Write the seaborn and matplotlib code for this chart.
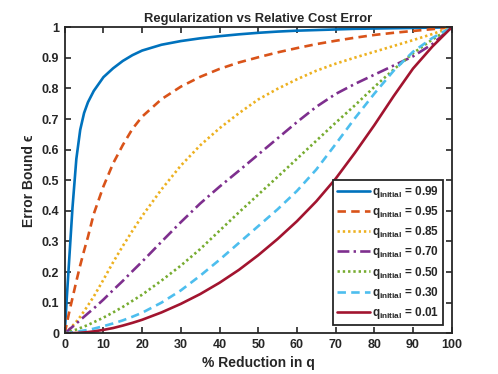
import numpy as np
import pandas as pd
import matplotlib
matplotlib.use('Agg')
import matplotlib.pyplot as plt
import seaborn as sns

# % reduction in q (shared x grid for all curves)
reduction = [0, 0.5, 1, 1.5, 2, 3, 4, 5, 6, 7.5, 10, 12.5, 15, 17.5, 20, 25, 30, 35,
             40, 45, 50, 55, 60, 65, 70, 75, 80, 85, 90, 95, 100]

# error bound values, one list per q_initial
eps_099 = [0, 0.11, 0.21, 0.31, 0.41, 0.57, 0.665, 0.72, 0.755, 0.792, 0.837, 0.866, 0.89, 0.909,
           0.924, 0.943, 0.955, 0.964, 0.971, 0.977, 0.982, 0.986, 0.989, 0.991, 0.993, 0.995,
           0.996, 0.997, 0.998, 0.999, 1]
eps_095 = [0, 0.03, 0.06, 0.088, 0.115, 0.17, 0.222, 0.27, 0.315, 0.39, 0.48, 0.555, 0.615, 0.668,
           0.708, 0.765, 0.806, 0.838, 0.864, 0.885, 0.902, 0.918, 0.932, 0.945, 0.956, 0.966,
           0.975, 0.982, 0.988, 0.994, 1]
eps_085 = [0, 0.005, 0.011, 0.017, 0.024, 0.038, 0.054, 0.072, 0.091, 0.12, 0.175, 0.232, 0.285,
           0.335, 0.383, 0.47, 0.548, 0.614, 0.67, 0.719, 0.764, 0.799, 0.83, 0.858, 0.881, 0.901,
           0.92, 0.939, 0.958, 0.978, 1]
eps_070 = [0, 0.005, 0.01, 0.016, 0.021, 0.032, 0.043, 0.054, 0.065, 0.081, 0.11, 0.141, 0.171,
           0.203, 0.234, 0.299, 0.363, 0.424, 0.479, 0.531, 0.584, 0.637, 0.69, 0.74, 0.782, 0.815,
           0.845, 0.875, 0.905, 0.945, 1]
eps_050 = [0, 0.002, 0.004, 0.006, 0.008, 0.012, 0.017, 0.022, 0.027, 0.036, 0.051, 0.068, 0.086,
           0.106, 0.126, 0.172, 0.221, 0.275, 0.335, 0.395, 0.453, 0.511, 0.57, 0.629, 0.688, 0.745,
           0.805, 0.862, 0.915, 0.96, 1]
eps_030 = [0, 0.0005, 0.001, 0.002, 0.003, 0.005, 0.007, 0.009, 0.011, 0.015, 0.023, 0.032, 0.042,
           0.054, 0.067, 0.1, 0.14, 0.188, 0.24, 0.295, 0.35, 0.405, 0.465, 0.535, 0.618, 0.703,
           0.783, 0.858, 0.92, 0.965, 1]
eps_001 = [0, 0, 0.0001, 0.0003, 0.0005, 0.001, 0.0017, 0.0027, 0.0038, 0.006, 0.011, 0.017, 0.025,
           0.034, 0.044, 0.068, 0.096, 0.128, 0.165, 0.207, 0.255, 0.308, 0.366, 0.431, 0.505, 0.59,
           0.68, 0.775, 0.865, 0.937, 1]

q_labels = ['0.99', '0.95', '0.85', '0.70', '0.50', '0.30', '0.01']
series = [eps_099, eps_095, eps_085, eps_070, eps_050, eps_030, eps_001]
colors = ['#0072BD', '#D95319', '#EDB120', '#7E2F8E', '#77AC30', '#4DBEEE', '#A2142F']
styles = ['-', (0, (3.2, 2.0)), (0, (0.9, 1.1)), (0, (4.5, 1.6, 0.9, 1.6)), (0, (0.9, 1.1)), (0, (3.2, 2.0)), '-']

sns.set_style('ticks')
plt.rcParams['font.family'] = ['Liberation Sans', 'DejaVu Sans']
plt.rcParams['font.weight'] = 'bold'
plt.rcParams['mathtext.fontset'] = 'custom'
plt.rcParams['mathtext.rm'] = 'Liberation Sans:bold'
plt.rcParams['mathtext.it'] = 'Liberation Sans:bold'
plt.rcParams['mathtext.bf'] = 'Liberation Sans:bold'

fig = plt.figure(figsize=(4.98, 3.74), dpi=100)
ax = fig.add_axes([0.130, 0.109, 0.777, 0.818])

for q, eps, c, ls in zip(q_labels, series, colors, styles):
    sns.lineplot(x=reduction, y=eps, color=c, linestyle=ls, linewidth=1.9,
                 label=r'q$_{\rm initial}$ = ' + q, ax=ax)

ax.set_xlim(0, 100)
ax.set_ylim(0, 1)
ax.set_xticks(np.arange(0, 101, 10))
ax.set_yticks(np.arange(0, 1.01, 0.1))
ax.set_yticklabels(['0', '0.1', '0.2', '0.3', '0.4', '0.5', '0.6', '0.7', '0.8', '0.9', '1'])
ax.tick_params(direction='in', length=4, width=1.2, top=True, right=True,
               labelsize=9, colors='#262626', pad=4)
for s in ax.spines.values():
    s.set_visible(True)
    s.set_linewidth(1.3)
    s.set_color('#262626')

ax.set_title('Regularization vs Relative Cost Error', fontsize=9.4, fontweight='bold', pad=4)
ax.set_xlabel('% Reduction in q', fontsize=10, fontweight='bold', color='#262626')
ax.set_ylabel('Error Bound ϵ', fontsize=10, fontweight='bold', color='#262626')

leg = ax.legend(loc='lower right', fontsize=8.5, frameon=True, fancybox=False,
                handlelength=2.8, handletextpad=0.15, borderpad=0.35, labelspacing=0.35,
                borderaxespad=0.7)
leg.get_frame().set_edgecolor('#262626')
leg.get_frame().set_linewidth(1.3)
leg.get_frame().set_alpha(1)

fig.savefig('out.png', dpi=100)
